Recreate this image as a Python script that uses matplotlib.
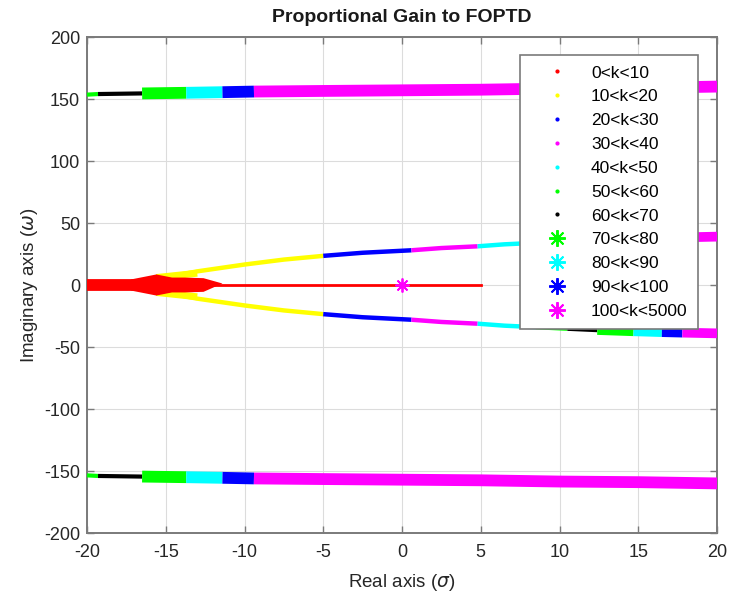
import matplotlib
matplotlib.use("Agg")
import matplotlib.pyplot as plt
from matplotlib.lines import Line2D

plt.rcParams['font.family'] = ['Liberation Sans', 'DejaVu Sans']
plt.rcParams['axes.unicode_minus'] = False

# ---- data ----
labels = ["0<k<10", "10<k<20", "20<k<30", "30<k<40", "40<k<50", "50<k<60",
          "60<k<70", "70<k<80", "80<k<90", "90<k<100", "100<k<5000"]
colors = ["#ff0000", "#ffff00", "#0000ff", "#ff00ff", "#00ffff", "#00ff00",
          "#000000", "#00ff00", "#00ffff", "#0000ff", "#ff00ff"]
markers = [".", ".", ".", ".", ".", ".", ".", "*", "*", "*", "*"]

# high-frequency branch (upper half; lower half is the mirror image)
high_x = {5: [-20.0, -19.3], 6: [-19.3, -16.5], 7: [-16.5, -13.7],
          8: [-13.7, -11.4], 9: [-11.4, -9.4],
          10: [-9.4, -5.0, 0.0, 5.0, 10.0, 15.0, 20.0]}
high_y = {5: [153.5, 154.0], 6: [154.0, 154.5], 7: [154.5, 155.0],
          8: [155.0, 155.5], 9: [155.5, 156.0],
          10: [156.0, 156.5, 157.0, 157.5, 158.5, 159.0, 160.0]}

# complex-pair branch (upper half; lower half mirrored)
cplx_x = {1: [-15.5, -13.0, -10.0, -7.5, -5.0], 2: [-5.0, -2.5, 0.6],
          3: [0.6, 2.5, 4.8], 4: [4.8, 6.5, 8.5], 5: [8.5, 10.5],
          6: [10.5, 12.4], 7: [12.4, 14.7], 8: [14.7, 16.5],
          9: [16.5, 17.8], 10: [17.8, 20.0]}
cplx_y = {1: [5.0, 11.0, 16.5, 20.5, 23.5], 2: [23.5, 26.0, 28.0],
          3: [28.0, 29.8, 31.2], 4: [31.2, 32.8, 34.0], 5: [34.0, 35.2],
          6: [35.2, 36.3], 7: [36.3, 37.3], 8: [37.3, 38.0],
          9: [38.0, 38.4], 10: [38.4, 39.0]}

# real-axis part (0<k<10)
real_thin_x = [-13.0, 5.0]
real_thick_x = [-20.0, -15.8]
# outline of the red cluster around the breakaway point
wedge_x = [-17.2, -15.6, -14.6, -13.8, -12.6, -11.4, -12.6, -13.8, -14.6, -15.6, -17.2]
wedge_y = [4.5, 8.5, 6.0, 6.0, 5.5, 1.2, -5.5, -6.0, -6.0, -8.5, -4.5]
# yellow cluster right after breakaway
ybulge_x = [-15.6, -13.0]
ybulge_y = [6.0, 9.5]
# single closed-loop marker at the origin
origin_x = [0.0]
origin_y = [0.0]

xticks = [-20, -15, -10, -5, 0, 5, 10, 15, 20]
yticks = [-200, -150, -100, -50, 0, 50, 100, 150, 200]

ASTERISK = (8, 2, 0)

# ---- figure ----
fig = plt.figure(figsize=(7.29, 5.99), dpi=100)
ax = fig.add_axes([87 / 729, 66 / 599, 630 / 729, 496 / 599])

for i, xs in high_x.items():
    ys = high_y[i]
    for sgn in (1, -1):
        ax.plot(xs, [sgn * v for v in ys], color=colors[i],
                lw=(8.5 if markers[i] == "*" else 3.0),
                solid_capstyle="butt", clip_on=False, zorder=3)

for i, xs in cplx_x.items():
    ys = cplx_y[i]
    for sgn in (1, -1):
        ax.plot(xs, [sgn * v for v in ys], color=colors[i],
                lw=(7.0 if markers[i] == "*" else 3.2),
                solid_capstyle="butt", clip_on=False, zorder=3)

for sgn in (1, -1):
    ax.plot(ybulge_x, [sgn * v for v in ybulge_y], color=colors[1], lw=5,
            solid_capstyle="butt", zorder=3)

ax.plot(real_thin_x, [0, 0], color=colors[0], lw=2.0, zorder=4)
ax.plot(real_thick_x, [0, 0], color=colors[0], lw=8.5, solid_capstyle="butt", zorder=4)
ax.fill(wedge_x, wedge_y, color=colors[0], lw=0, zorder=4)
ax.plot(origin_x, origin_y, linestyle="none", marker=ASTERISK, ms=10, mew=1.3,
        color=colors[10], zorder=5)

ax.set_xlim(-20, 20)
ax.set_ylim(-200, 200)
ax.set_xticks(xticks)
ax.set_yticks(yticks)
ax.grid(True, color="#dcdcdc", lw=0.8)
ax.set_axisbelow(True)
ax.tick_params(direction="in", top=True, right=True, length=5, width=1,
               color="#7a7a7a", labelsize=13, labelcolor="#262626")
ax.tick_params(axis="x", pad=8)
ax.tick_params(axis="y", pad=5)
for sp in ax.spines.values():
    sp.set_color("#7a7a7a")
    sp.set_linewidth(1.4)

ax.set_title("Proportional Gain to FOPTD", fontsize=14, fontweight="bold",
             color="#1a1a1a", pad=11)
ax.set_xlabel("Real axis ($\\sigma$)", fontsize=13.5, color="#262626", labelpad=8)
ax.set_ylabel("Imaginary axis ($\\omega$)", fontsize=13.5, color="#262626", labelpad=3)

handles = [Line2D([], [], linestyle="none",
                  marker=("." if markers[i] == "." else ASTERISK),
                  color=colors[i], ms=(4 if markers[i] == "." else 12),
                  markeredgewidth=(1.0 if markers[i] == "." else 1.4))
           for i in range(len(labels))]
leg = ax.legend(handles, labels, loc="upper right",
                bbox_to_anchor=((698 - 87) / 630, (533 - 55) / 496),
                borderaxespad=0, fontsize=12.5, frameon=True, fancybox=False,
                framealpha=1, edgecolor="#7a7a7a", handlelength=3.05,
                handletextpad=0.43, labelspacing=0.5, borderpad=0.6)
leg.get_frame().set_linewidth(1.2)
leg.set_zorder(10)

fig.savefig("out.png", dpi=100)
